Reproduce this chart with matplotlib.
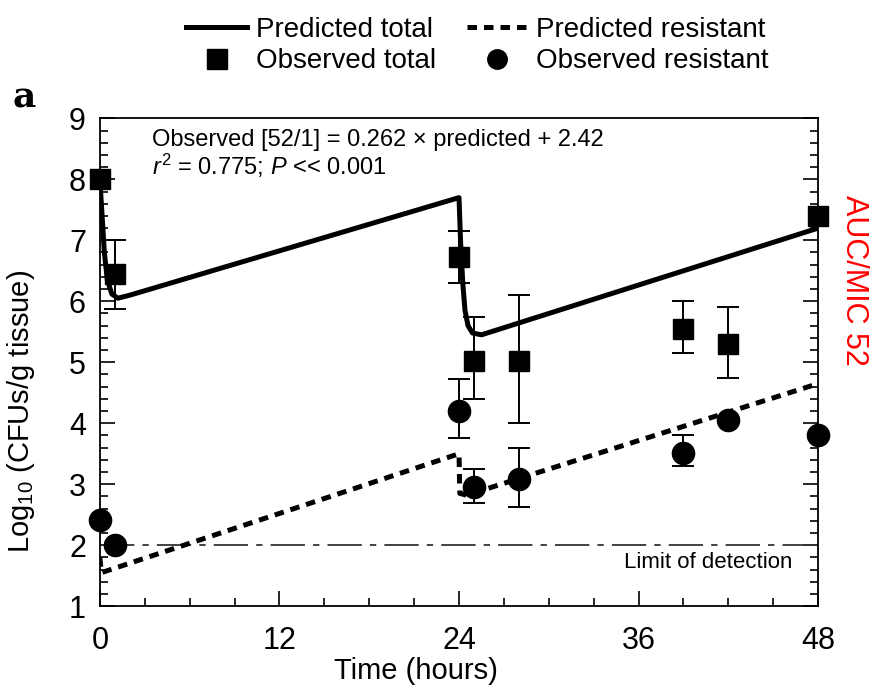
import numpy as np
import matplotlib
matplotlib.use("Agg")
import matplotlib.pyplot as plt
from matplotlib.lines import Line2D
from matplotlib.ticker import MultipleLocator

plt.rcParams['font.family'] = ['Liberation Sans', 'DejaVu Sans']
plt.rcParams['mathtext.fontset'] = 'custom'
plt.rcParams['mathtext.rm'] = 'Liberation Sans'
plt.rcParams['mathtext.it'] = 'Liberation Sans:italic'

nan = np.nan

# наблюдаемые точки (часы)
obs_time = [0, 1, 24, 25, 28, 39, 42, 48]
obs_total = [8.0, 6.45, 6.72, 5.02, 5.02, 5.55, 5.3, 7.4]
obs_total_lo = [nan, 5.88, 6.3, 4.4, 4.0, 5.15, 4.75, nan]
obs_total_hi = [nan, 7.0, 7.15, 5.75, 6.1, 6.0, 5.9, nan]
obs_res = [2.42, 2.0, 4.2, 2.95, 3.08, 3.52, 4.05, 3.8]
obs_res_lo = [nan, nan, 3.75, 2.7, 2.62, 3.3, nan, nan]
obs_res_hi = [nan, nan, 4.72, 3.25, 3.6, 3.8, nan, nan]

# предсказанные кривые, точки
pred_total_time = [0, 0.15, 0.3, 0.5, 0.8, 1.2, 2.0, 24.0, 24.1, 24.25, 24.4, 24.6, 24.9, 25.5, 48.0]
pred_total = [8.0, 7.4, 6.8, 6.35, 6.12, 6.05, 6.1, 7.7, 7.0, 6.3, 5.85, 5.6, 5.48, 5.45, 7.2]
pred_res_time = [0, 0.1, 24.0, 24.05, 24.5, 48.0]
pred_res = [1.8, 1.55, 3.5, 2.85, 2.82, 4.65]

limit_detection = 2.0

x_ticks = [0, 12, 24, 36, 48]
y_ticks = [1, 2, 3, 4, 5, 6, 7, 8, 9]

fig = plt.figure(figsize=(8.76, 6.92), dpi=100)
ax = fig.add_axes([0.114, 0.124, 0.82, 0.705])

# предел обнаружения
ax.plot([0, 48], [limit_detection, limit_detection], color='#333333', lw=1.3,
        linestyle=(0, (19, 4.5, 3.5, 4.5)))
ax.text(46.3, 1.72, "Limit of detection", fontsize=16, ha='right', va='center')

# кривые
ax.plot(pred_total_time, pred_total, color='black', lw=3.6, solid_capstyle='round')
ax.plot(pred_res_time, pred_res, color='black', lw=3.6, linestyle=(0, (1.9, 1.4)))

# наблюдения с планками ошибок
t = np.array(obs_time, dtype=float)
tot = np.array(obs_total)
res = np.array(obs_res)
tot_err = [tot - np.array(obs_total_lo), np.array(obs_total_hi) - tot]
res_err = [res - np.array(obs_res_lo), np.array(obs_res_hi) - res]
ax.errorbar(t, tot, yerr=tot_err, fmt='none', ecolor='black', elinewidth=1.4,
            capsize=8, capthick=1.4)
ax.errorbar(t, res, yerr=res_err, fmt='none', ecolor='black', elinewidth=1.4,
            capsize=8, capthick=1.4)
ax.plot(t, tot, 's', color='black', ms=15, clip_on=False, zorder=5)
ax.plot(t, res, 'o', color='black', ms=16, clip_on=False, zorder=5)

ax.set_xlim(0, 48)
ax.set_ylim(1, 9)
ax.set_xticks(x_ticks)
ax.set_yticks(y_ticks)
ax.xaxis.set_minor_locator(MultipleLocator(3))
ax.yaxis.set_minor_locator(MultipleLocator(0.2))
ax.tick_params(which='both', direction='in', right=True, top=False, width=1.2)
ax.tick_params(which='major', length=11, labelsize=22)
ax.tick_params(axis='y', which='major', pad=10)
ax.tick_params(axis='x', which='major', pad=14)
ax.tick_params(which='minor', length=6)
for s in ax.spines.values():
    s.set_linewidth(1.3)

ax.set_xlabel("Time (hours)", fontsize=21)
ax.xaxis.set_label_coords(0.44, -0.105)
ax.set_ylabel("Log$_{10}$ (CFUs/g tissue)", fontsize=21)
ax.yaxis.set_label_coords(-0.088, 0.40)

ax.text(0.072, 0.978,
        "Observed [52/1] = 0.262 \u00d7 predicted + 2.42\n$r^2$ = 0.775; $P$ << 0.001",
        transform=ax.transAxes, fontsize=17, ha='left', va='top', linespacing=1.05)

# легенда сверху
handles = [
    Line2D([], [], color='black', lw=3.6),
    Line2D([], [], color='black', marker='s', ls='none', ms=14),
    Line2D([], [], color='black', lw=3.6, linestyle=(0, (1.9, 1.4))),
    Line2D([], [], color='black', marker='o', ls='none', ms=14),
]
labels = ["Predicted total", "Observed total", "Predicted resistant", "Observed resistant"]
fig.legend(handles, labels, ncol=2, loc='upper center', bbox_to_anchor=(0.545, 1.012),
           frameon=False, fontsize=20, handlelength=2.2, handletextpad=0.3,
           columnspacing=1.1, labelspacing=0.2)

fig.text(0.014, 0.845, "a", fontsize=26, fontweight='bold', family='DejaVu Serif')
fig.text(0.975, 0.595, "AUC/MIC 52", color='red', fontsize=22, rotation=-90,
         ha='center', va='center')

fig.savefig("out.png", dpi=100)
